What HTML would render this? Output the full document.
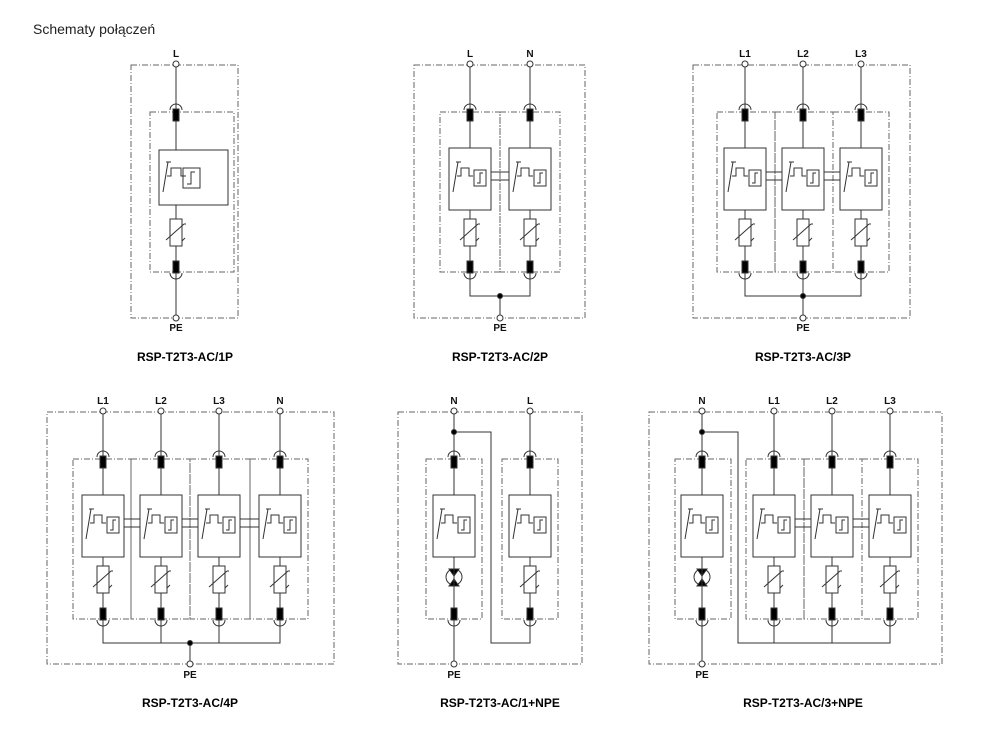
<!DOCTYPE html>
<html><head><meta charset="utf-8"><style>
body{margin:0;background:#fff;width:985px;height:741px;overflow:hidden}
svg{display:block}
text{font-family:"Liberation Sans",sans-serif}
.t{font-size:10px;fill:#111;text-anchor:middle;font-weight:bold}
.h{font-size:12px;font-weight:bold;fill:#000;text-anchor:middle}
.d{fill:none;stroke:#666;stroke-width:1;stroke-dasharray:6 2 1 2}
</style></head><body>
<svg width="985" height="741" viewBox="0 0 985 741">
<defs>
<g id="bk" fill="none" stroke="#333" stroke-width="1">
 <rect x="-21" y="84" width="42" height="62" fill="#fff"/>
 <rect x="4" y="106" width="12" height="16"/>
 <path d="M7,119 h3 v-10 h3"/>
 <path d="M-17,128 L-12,98 M-14,98 h5 M-13,112 h4 v-8 h8 v8 h4"/>
</g>
<g id="fu" stroke="#333" stroke-width="1">
 <path d="M-6,46 A6,6 0 0 1 6,46" fill="none"/>
 <rect x="-3" y="45" width="6" height="12" fill="#000"/>
 <rect x="-3" y="197" width="6" height="12" fill="#000"/>
 <path d="M-6,209 A6,6 0 0 0 6,209" fill="none"/>
 <circle cx="0" cy="0" r="3" fill="#fff"/>
</g>
<g id="va" fill="none" stroke="#333" stroke-width="1">
 <rect x="-6" y="155" width="12" height="27" fill="#fff"/>
 <path d="M-10,176 L8,160 M8,160 h2 M-10,176 v0"/>
 <path d="M6,177 L9,174"/>
</g>
<g id="sg" stroke="#333" stroke-width="1">
 <circle cx="0" cy="166" r="8" fill="#fff"/>
 <path d="M-5,158 h10 l-5,7z M-5,175 h10 l-5,-7z" fill="#000"/>
 <line x1="0" y1="158" x2="0" y2="175"/>
</g>
<g id="mv"><use href="#fu"/><use href="#bk"/><use href="#va"/></g>
<g id="ms"><use href="#fu"/><use href="#bk"/><use href="#sg"/></g>
</defs>

<text x="33" y="34" style="font-size:14px" fill="#222">Schematy połączeń</text>

<g stroke="#333" stroke-width="1" fill="none">
<rect class="d" x="131" y="65" width="107" height="253"/>
<rect class="d" x="150" y="112" width="84" height="160"/>
<line x1="176" y1="64" x2="176" y2="318"/>
<circle cx="176" cy="318" r="3" fill="#fff"/>
</g>
<g transform="translate(176,64)" stroke="#333" fill="none">
<use href="#fu"/>
<rect x="-17" y="86" width="69" height="55" fill="#fff"/>
<rect x="7" y="104" width="17" height="20"/>
<path d="M11,120 h4 v-12 h4"/>
<path d="M-13,128 L-8,98 M-10,98 h5 M-9,112 h4 v-8 h10 v8 h5"/>
<use href="#va"/>
</g>
<text class="t" x="176" y="57">L</text><text class="t" x="176" y="331">PE</text>
<text class="h" x="185" y="361">RSP-T2T3-AC/1P</text>

<g stroke="#333" fill="none">
<rect class="d" x="414" y="65" width="171" height="253"/>
<rect class="d" x="440" y="112" width="60" height="160"/>
<rect class="d" x="500" y="112" width="60" height="160"/>
<path d="M470,64 V296 H530 V64 M500,296 V318"/>
<path d="M491,172 h18 M491,180 h18"/>
<circle cx="500" cy="296" r="2.5" fill="#000"/>
<circle cx="500" cy="318" r="3" fill="#fff"/>
</g>
<use href="#mv" transform="translate(470,64)"/><use href="#mv" transform="translate(530,64)"/>
<text class="t" x="470" y="57">L</text><text class="t" x="530" y="57">N</text><text class="t" x="500" y="331">PE</text>
<text class="h" x="500" y="361">RSP-T2T3-AC/2P</text>

<g stroke="#333" fill="none">
<rect class="d" x="693" y="65" width="217" height="253"/>
<rect class="d" x="717" y="112" width="58" height="160"/>
<rect class="d" x="775" y="112" width="58" height="160"/>
<rect class="d" x="833" y="112" width="56" height="160"/>
<path d="M745,64 V296 H861 V64 M803,64 V318"/>
<path d="M766,172 h16 M766,180 h16 M824,172 h16 M824,180 h16"/>
<circle cx="803" cy="296" r="2.5" fill="#000"/>
<circle cx="803" cy="318" r="3" fill="#fff"/>
</g>
<use href="#mv" transform="translate(745,64)"/><use href="#mv" transform="translate(803,64)"/><use href="#mv" transform="translate(861,64)"/>
<text class="t" x="745" y="57">L1</text><text class="t" x="803" y="57">L2</text><text class="t" x="861" y="57">L3</text><text class="t" x="803" y="331">PE</text>
<text class="h" x="803" y="361">RSP-T2T3-AC/3P</text>

<g stroke="#333" fill="none">
<rect class="d" x="47" y="412" width="287" height="252"/>
<rect class="d" x="73" y="459" width="58" height="160"/>
<rect class="d" x="131" y="459" width="59" height="160"/>
<rect class="d" x="190" y="459" width="60" height="160"/>
<rect class="d" x="250" y="459" width="58" height="160"/>
<path d="M103,411 V643 H280 V411 M161,411 V643 M219,411 V643 M190,643 V664"/>
<path d="M124,519 h16 M124,527 h16 M182,519 h16 M182,527 h16 M240,519 h19 M240,527 h19"/>
<circle cx="190" cy="643" r="2.5" fill="#000"/>
<circle cx="190" cy="664" r="3" fill="#fff"/>
</g>
<use href="#mv" transform="translate(103,411)"/><use href="#mv" transform="translate(161,411)"/><use href="#mv" transform="translate(219,411)"/><use href="#mv" transform="translate(280,411)"/>
<text class="t" x="103" y="404">L1</text><text class="t" x="161" y="404">L2</text><text class="t" x="219" y="404">L3</text><text class="t" x="280" y="404">N</text><text class="t" x="190" y="678">PE</text>
<text class="h" x="190" y="707">RSP-T2T3-AC/4P</text>

<g stroke="#333" fill="none">
<rect class="d" x="398" y="412" width="184" height="252"/>
<rect class="d" x="426" y="459" width="56" height="160"/>
<rect class="d" x="502" y="459" width="56" height="160"/>
<path d="M454,411 V664 M454,432 H491 V643 H530 V411"/>
<circle cx="454" cy="432" r="2.5" fill="#000"/>
<circle cx="454" cy="664" r="3" fill="#fff"/>
</g>
<use href="#ms" transform="translate(454,411)"/><use href="#mv" transform="translate(530,411)"/>
<text class="t" x="454" y="404">N</text><text class="t" x="530" y="404">L</text><text class="t" x="454" y="678">PE</text>
<text class="h" x="500" y="707">RSP-T2T3-AC/1+NPE</text>

<g stroke="#333" fill="none">
<rect class="d" x="649" y="412" width="293" height="252"/>
<rect class="d" x="675" y="459" width="56" height="160"/>
<rect class="d" x="746" y="459" width="58" height="160"/>
<rect class="d" x="804" y="459" width="58" height="160"/>
<rect class="d" x="862" y="459" width="56" height="160"/>
<path d="M702,411 V664 M702,432 H738 V643 H890 V411 M774,411 V643 M832,411 V643"/>
<path d="M795,519 h16 M795,527 h16 M853,519 h16 M853,527 h16"/>
<circle cx="702" cy="432" r="2.5" fill="#000"/>
<circle cx="702" cy="664" r="3" fill="#fff"/>
</g>
<use href="#ms" transform="translate(702,411)"/><use href="#mv" transform="translate(774,411)"/><use href="#mv" transform="translate(832,411)"/><use href="#mv" transform="translate(890,411)"/>
<text class="t" x="702" y="404">N</text><text class="t" x="774" y="404">L1</text><text class="t" x="832" y="404">L2</text><text class="t" x="890" y="404">L3</text><text class="t" x="702" y="678">PE</text>
<text class="h" x="803" y="707">RSP-T2T3-AC/3+NPE</text>
</svg>
</body></html>
